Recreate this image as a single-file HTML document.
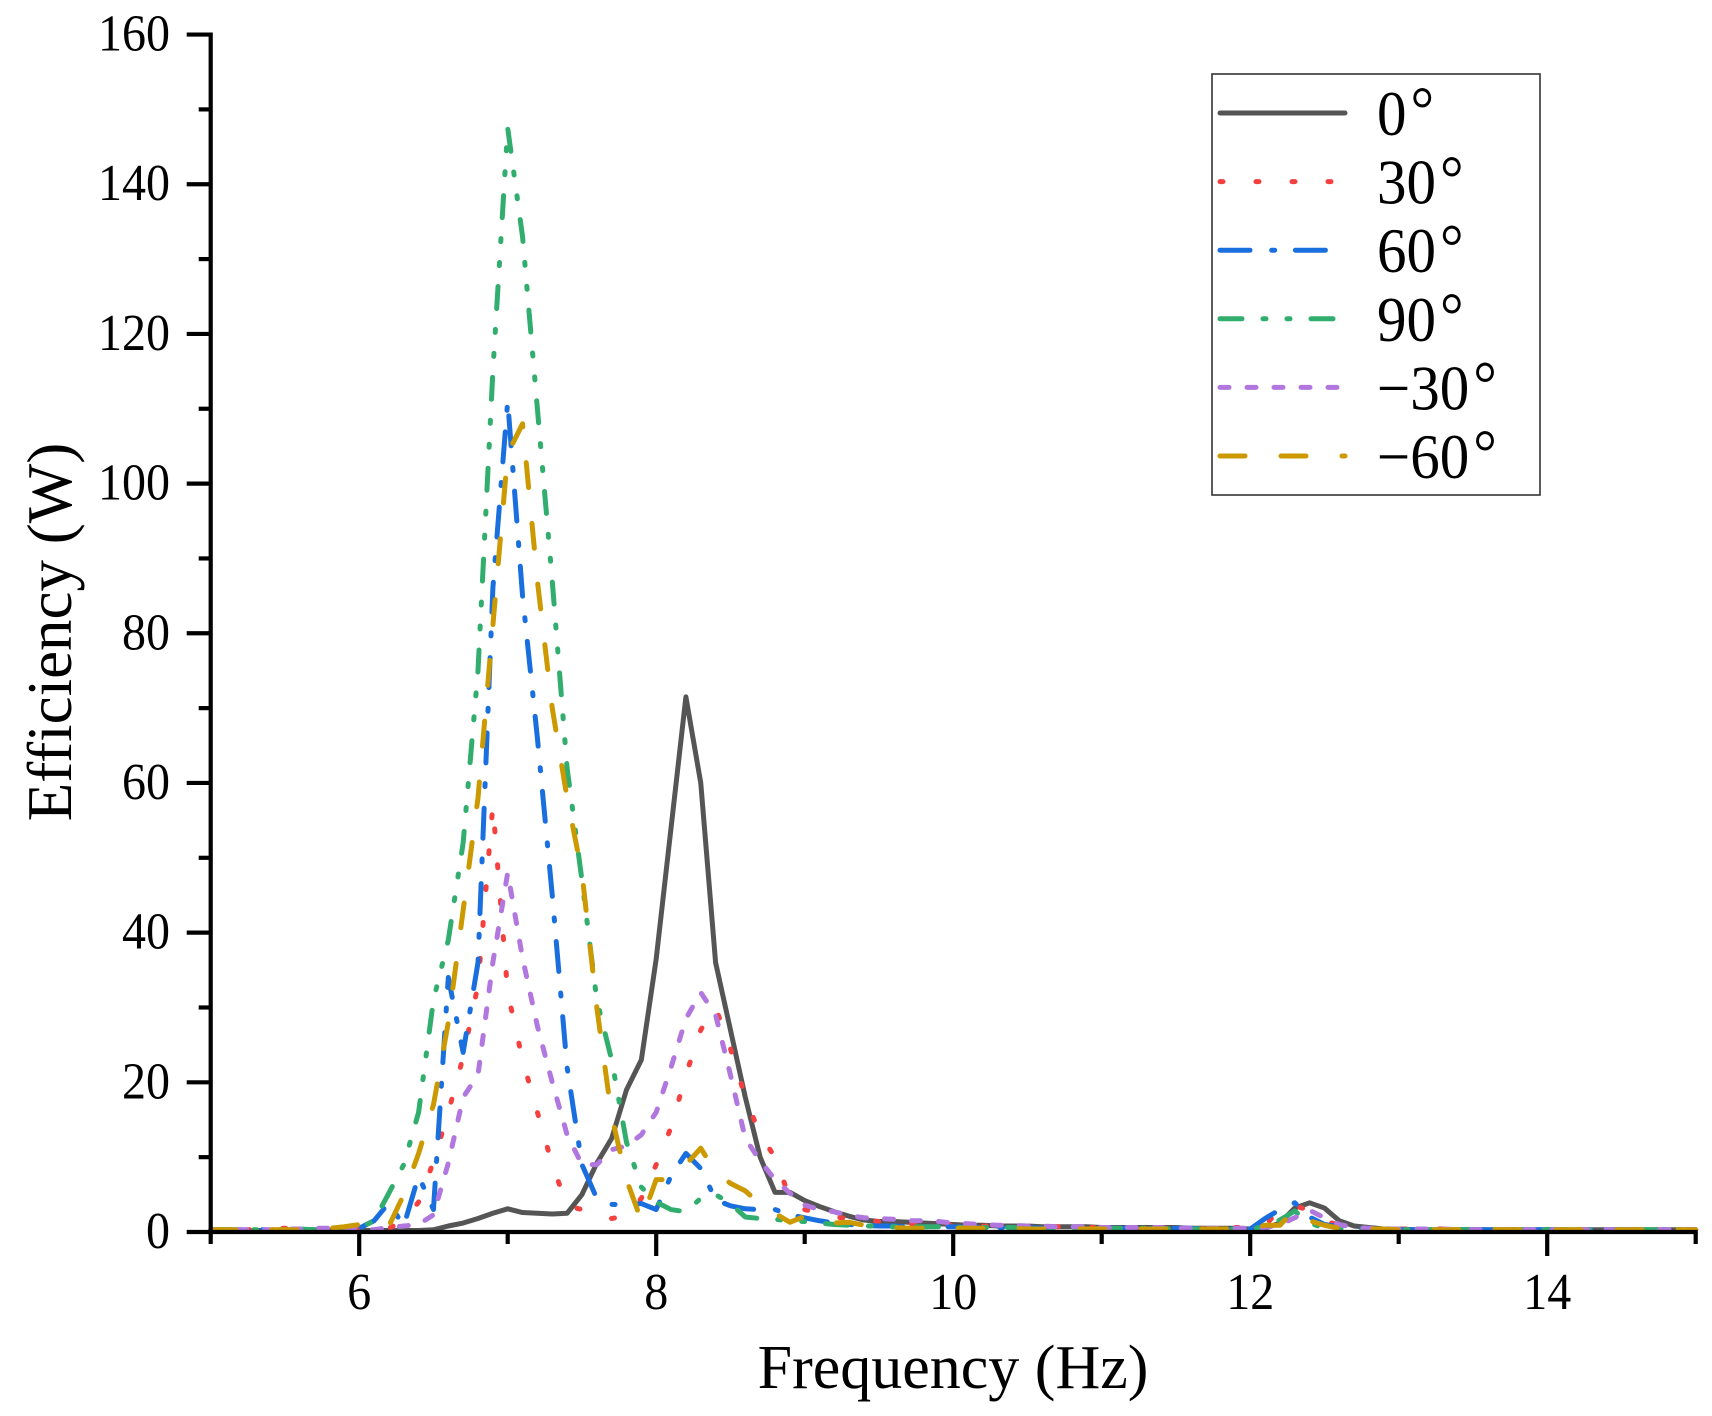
<!DOCTYPE html>
<html lang="en">
<head>
<meta charset="utf-8">
<title>Efficiency vs Frequency</title>
<style>
html,body{margin:0;padding:0;background:#fff;}
#chart{display:block;width:1712px;height:1416px;font-family:"Liberation Serif",serif;fill:#000;}
</style>
</head>
<body>
<svg id="chart" xmlns="http://www.w3.org/2000/svg" width="1712" height="1416" viewBox="0 0 1712 1416">
  <g id="series-layer"></g>
  <g id="axes-layer"></g>
  <text x="953" y="1388" font-size="62" text-anchor="middle">Frequency (Hz)</text>
  <text transform="translate(71,632) rotate(-90)" font-size="63" text-anchor="middle">Efficiency (W)</text>
  <g id="legend-layer"></g>
</svg>
<script>
// Frequency grid start / step (Hz), one value per 0.1 Hz
const freqStart = 5.0;
const freqStep = 0.1;
const xTickLabels = [6, 8, 10, 12, 14];
const xMinorTicks = [5, 7, 9, 11, 13, 15];
const yTickLabels = [0, 20, 40, 60, 80, 100, 120, 140, 160];
const yMinorTicks = [10, 30, 50, 70, 90, 110, 130, 150];

const seriesNames = ['0°', '30°', '60°', '90°', '−30°', '−60°'];

const values0 = [
.2,.2,.2,.2,.2,.2,.2,.2,.2,.2,
.2,.2,.2,.2,.2,.3,.8,1.2,1.8,2.5,
3.1,2.6,2.5,2.4,2.5,5,9.2,12.5,19,23,
36.5,54,71.5,60,36,27,18,10,5.3,5.3,
4.2,3.4,2.7,2.1,1.6,1.4,1.4,1.3,1.2,1.1,
1,.9,.9,.8,.8,.8,.7,.7,.7,.7,
.6,.6,.6,.6,.6,.6,.5,.5,.5,.5,
.4,.5,1.2,3.2,3.9,3.2,1.5,.8,.6,.4,
.4,.3,.3,.3,.3,.3,.3,.3,.3,.3,
.3,.3,.3,.3,.3,.3,.3,.3,.3,.3,
.3];
const values30 = [
.3,.3,.3,.3,.4,.5,.4,.5,.4,.5,
.5,.4,.5,1.5,4,9.4,16,23.4,33,57,
32,23,16,9,3.5,3,2.3,1.8,2.2,4.5,
9,14,21,27,30,24.5,18,13,10,4.5,
3,2.5,2,1.8,1.5,1.4,1.2,1.1,1,1,
.9,.9,.8,.8,.8,.7,.7,.7,.7,.6,
.6,.6,.6,.6,.5,.5,.5,.5,.5,.6,
.6,.9,3,3.5,2.9,1.5,.9,.6,.4,.4,
.4,.4,.4,.4,.3,.3,.3,.3,.3,.3,
.3,.3,.3,.3,.3,.3,.3,.3,.3,.3,
.3];
const values60 = [
.3,.3,.3,.3,.3,.3,.3,.3,.3,.3,
.5,1.5,3.9,.8,7.5,3,34,24,36,86,
111,85,66,45,22,9,4.5,3.7,3.6,3.8,
3,7.5,10.5,8.5,4.3,3.5,3.1,3,3,2.3,
1.9,1.5,1.2,1,.9,.8,.8,.7,.7,.7,
.7,.6,.6,.6,.6,.6,.5,.5,.5,.5,
.5,.5,.5,.5,.5,.5,.5,.4,.4,.4,
.4,1.8,3,3.9,2,1,.7,.5,.4,.4,
.3,.3,.3,.3,.3,.3,.3,.3,.3,.3,
.3,.3,.3,.3,.3,.3,.3,.3,.3,.3,
.3];
const values90 = [
.3,.3,.3,.3,.3,.3,.4,.3,.4,.5,
.5,1.5,5.2,9,16,31,39,52,75,115,
147.5,133,110,87,62,47,31,23,12,6,
4,3,2.7,4.5,5,3.8,2,1.8,1.7,1.5,
1.4,1.2,1,.9,.8,.8,.7,.7,.7,.7,
.6,.6,.6,.6,.6,.5,.5,.5,.5,.5,
.5,.5,.5,.5,.5,.4,.4,.4,.4,.4,
.4,.7,1.6,2.8,1.2,.5,.5,.4,.4,.3,
.3,.3,.3,.3,.3,.3,.3,.3,.3,.3,
.3,.3,.3,.3,.3,.3,.3,.3,.3,.3,
.3];
const valuesNeg30 = [
.3,.3,.3,.3,.3,.4,.4,.5,.5,.6,
.5,.3,.6,.8,1,2.3,9.2,18,21,36,
48,36.6,27.5,20,13,9,9,11,11.5,13,
16,22,28.5,32,29,21,12.5,9.5,7,5.2,
3.6,3,2.7,2.2,1.9,1.8,1.7,1.5,1.5,1.4,
1.2,1.1,1,.9,.9,.8,.8,.7,.7,.7,
.6,.6,.6,.6,.6,.5,.5,.5,.5,.5,
.5,.6,1,1.9,2.9,1.9,1,.6,.5,.4,
.4,.4,.4,.4,.3,.3,.3,.3,.3,.3,
.3,.3,.3,.3,.3,.3,.3,.3,.3,.3,
.3];
const valuesNeg60 = [
.3,.3,.3,.3,.3,.3,.3,.4,.5,.7,
1,.4,.8,5,10.5,17,28,43,58,81,
104,108,87,70,58,48,30,15.5,7,1.5,
7,7,9,11.2,8,6.5,5.5,3.7,2.5,1.3,
2.1,1.5,1.2,1.3,.9,.6,.6,.5,.5,.5,
.5,.5,.5,.5,.5,.4,.4,.4,.4,.4,
.4,.4,.4,.4,.4,.4,.4,.4,.4,.4,
.4,.9,.9,3,1.5,.9,.5,.4,.4,.4,
.3,.3,.3,.3,.3,.3,.3,.3,.3,.3,
.3,.3,.3,.3,.3,.3,.3,.3,.3,.3,
.3];
const seriesValues = [values0, values30, values60, values90, valuesNeg30, valuesNeg60];

const seriesColors = ['#555555', '#f54040', '#1a6fdf', '#31ad6d', '#b177de', '#cc9900'];
const seriesDashes = ['none', '3 33', '30 21.7 3 20.7', '22 21 3 21 3 21', '9 18', '25 36'];

const SVGNS = 'http://www.w3.org/2000/svg';
const xScale = v => 210.7 + (v - 5) * 148.5;
const yScale = v => 1232 - v * 7.484;
const textStretch = 1.08;

const seriesLayer = document.getElementById('series-layer');
const axesLayer = document.getElementById('axes-layer');
const legendLayer = document.getElementById('legend-layer');

function make(tag, attrs, parent) {
  const el = document.createElementNS(SVGNS, tag);
  for (const k in attrs) el.setAttribute(k, attrs[k]);
  parent.appendChild(el);
  return el;
}

seriesValues.forEach((vals, i) => {
  const pts = vals.map((v, k) => xScale(freqStart + k * freqStep).toFixed(2) + ',' + yScale(v).toFixed(2)).join(' ');
  const line = make('polyline', {points: pts, fill: 'none', stroke: seriesColors[i], 'stroke-width': 5,
    'stroke-linecap': 'round', 'stroke-linejoin': 'round', 'stroke-dasharray': seriesDashes[i]}, seriesLayer);
  
  
});

const axisY = make('line', {x1: xScale(5), x2: xScale(5), y1: yScale(160) - 2, y2: yScale(0) + 2, stroke: '#000', 'stroke-width': 4.2}, axesLayer);


const axisX = make('line', {x1: xScale(5) - 2, x2: xScale(15) + 2, y1: yScale(0), y2: yScale(0), stroke: '#000', 'stroke-width': 4.2}, axesLayer);



yTickLabels.forEach(v => {
  const t = make('line', {x1: xScale(5) - 24, x2: xScale(5), y1: yScale(v), y2: yScale(v), stroke: '#000', 'stroke-width': 4.2}, axesLayer);
  
  
  const l = make('text', {transform: 'translate(170,' + (yScale(v) + 16) + ') scale(1,' + textStretch + ')', 'font-size': 48, 'text-anchor': 'end'}, axesLayer);
  l.textContent = v;
  
  
});
yMinorTicks.forEach(v => {
  const t = make('line', {x1: xScale(5) - 12, x2: xScale(5), y1: yScale(v), y2: yScale(v), stroke: '#000', 'stroke-width': 4.2}, axesLayer);
  
  
});
xTickLabels.forEach(v => {
  const t = make('line', {x1: xScale(v), x2: xScale(v), y1: yScale(0), y2: yScale(0) + 24, stroke: '#000', 'stroke-width': 4.2}, axesLayer);
  
  
  const l = make('text', {transform: 'translate(' + xScale(v) + ',1309) scale(1,' + textStretch + ')', 'font-size': 48, 'text-anchor': 'middle'}, axesLayer);
  l.textContent = v;
  
  
});
xMinorTicks.forEach(v => {
  const t = make('line', {x1: xScale(v), x2: xScale(v), y1: yScale(0), y2: yScale(0) + 12, stroke: '#000', 'stroke-width': 4.2}, axesLayer);
  
  
});

const legendBox = make('rect', {x: 1212, y: 74, width: 328, height: 421, fill: '#fff', stroke: '#333', 'stroke-width': 1.6}, legendLayer);



seriesNames.forEach((name, i) => {
  const rowY = 113 + i * 68.6;
  const sw = make('line', {x1: 1220, x2: 1345, y1: rowY, y2: rowY, stroke: seriesColors[i], 'stroke-width': 5,
    'stroke-linecap': 'round', 'stroke-dasharray': seriesDashes[i]}, legendLayer);
  
  
  const label = make('text', {transform: 'translate(1377,' + (rowY + 22) + ') scale(1,' + textStretch + ')', 'font-size': 59}, legendLayer);
  
  
  label.appendChild(document.createTextNode(name.slice(0, -1)));
  const deg = make('tspan', {dx: 4, dy: -4}, label);
  deg.textContent = '°';
});
</script>
</body>
</html>
